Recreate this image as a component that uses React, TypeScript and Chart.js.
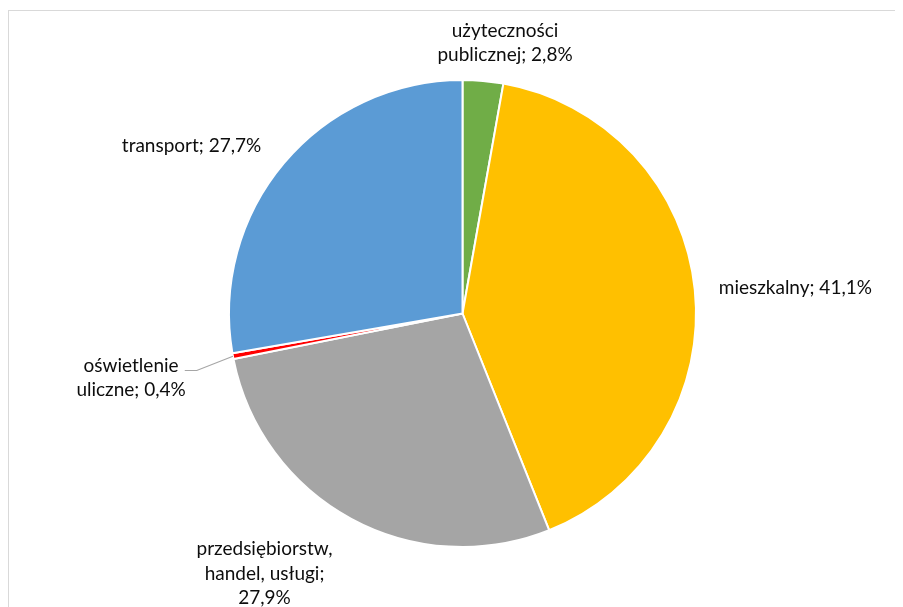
import React, { useEffect, useRef } from "react";
import { Chart, registerables } from "chart.js";

Chart.register(...registerables);

const categories = [
  "użyteczności publicznej",
  "mieszkalny",
  "przedsiębiorstw, handel, usługi",
  "oświetlenie uliczne",
  "transport",
];
const shares = [2.8, 41.1, 27.9, 0.4, 27.7];
const sliceColors = ["#70AD47", "#FFC000", "#A5A5A5", "#FF0000", "#5B9BD5"];

const fmt = (v: number) => v.toFixed(1).replace(".", ",") + "%";

const LABEL_FONT = "19px Lato";
const LINE_H = 24.5;
const GAP = 23.5;
const WRAP = 158;
const NUDGES: [number, number][] = [
  [14, 10],
  [1, 2],
  [-43, 2],
  [-25, 13],
  [-21, 6],
];

function wrapText(ctx: CanvasRenderingContext2D, text: string, maxW: number): string[] {
  const words = text.split(" ");
  const lines: string[] = [];
  let cur = "";
  for (const w of words) {
    const test = cur ? cur + " " + w : w;
    if (cur && ctx.measureText(test).width > maxW) {
      lines.push(cur);
      cur = w;
    } else {
      cur = test;
    }
  }
  if (cur) lines.push(cur);
  return lines;
}

const outLabels = {
  id: "outLabels",
  afterDraw(chart: any) {
    const ctx: CanvasRenderingContext2D = chart.ctx;
    const meta = chart.getDatasetMeta(0);
    ctx.save();
    ctx.font = LABEL_FONT;
    ctx.textAlign = "center";
    ctx.textBaseline = "middle";
    meta.data.forEach((arc: any, i: number) => {
      const { x, y, startAngle, endAngle, outerRadius } = arc.getProps(
        ["x", "y", "startAngle", "endAngle", "outerRadius"],
        true
      );
      const mid = (startAngle + endAngle) / 2;
      const dx = Math.cos(mid);
      const dy = Math.sin(mid);
      const lines = wrapText(ctx, categories[i] + "; " + fmt(shares[i]), WRAP);
      const w = Math.max(...lines.map((l) => ctx.measureText(l).width));
      const h = lines.length * LINE_H;
      const px = x + (outerRadius + GAP) * dx;
      const py = y + (outerRadius + GAP) * dy;
      const cx = px + (dx * w) / 2 + NUDGES[i][0];
      const cy = py + (dy * h) / 2 + NUDGES[i][1];
      ctx.fillStyle = "#0d0d0d";
      lines.forEach((l, k) => ctx.fillText(l, cx, cy - h / 2 + LINE_H * (k + 0.5)));
      if (shares[i] < 1) {
        const sx = cx + w / 2 - 1;
        const sy = cy - 7.5;
        ctx.strokeStyle = "#A6A6A6";
        ctx.lineWidth = 1.2;
        ctx.beginPath();
        ctx.moveTo(sx, sy);
        ctx.lineTo(sx + 12, sy);
        ctx.lineTo(x + outerRadius * dx, y + outerRadius * dy);
        ctx.stroke();
      }
    });
    ctx.restore();
  },
};

export default function App() {
  const ref = useRef<HTMLCanvasElement | null>(null);
  useEffect(() => {
    if (!ref.current) return;
    const chart = new Chart(ref.current, {
      type: "pie",
      data: {
        labels: categories,
        datasets: [
          {
            data: shares,
            backgroundColor: sliceColors,
            borderColor: "#FFFFFF",
            borderWidth: 2,
          },
        ],
      },
      options: {
        responsive: false,
        animation: false,
        layout: { padding: { left: 219, right: 206, top: 68, bottom: 59 } },
        plugins: {
          legend: { display: false },
          tooltip: { enabled: false },
          title: { display: false },
        },
      },
      plugins: [outLabels],
    });
    return () => chart.destroy();
  }, []);
  return (
    <div style={{ width: 895, height: 599, overflow: "hidden" }}>
      <div
        style={{
          marginTop: 2,
          width: 920,
          height: 640,
          border: "1px solid #D9D9D9",
          background: "#FFFFFF",
        }}
      >
        <canvas ref={ref} width={894} height={596} style={{ display: "block" }} />
      </div>
    </div>
  );
}
